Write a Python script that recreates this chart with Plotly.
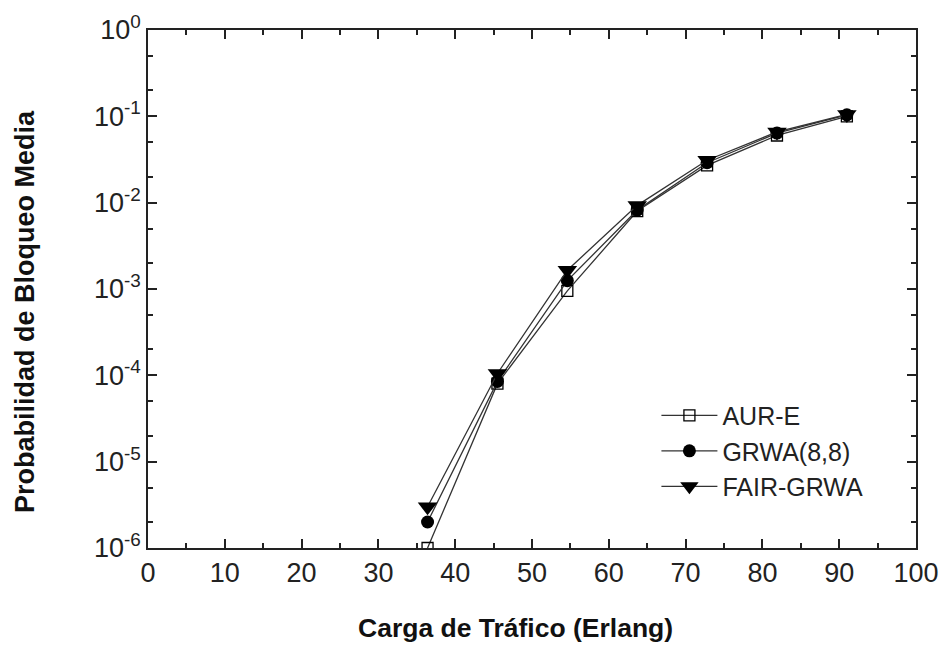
import plotly.graph_objects as go

carga = [36.4, 45.5, 54.6, 63.7, 72.8, 81.9, 91.0]
aur_e = [1.0e-6, 8.0e-5, 9.5e-4, 8.0e-3, 2.7e-2, 6.0e-2, 1.0e-1]
grwa = [2.0e-6, 8.5e-5, 1.25e-3, 8.2e-3, 2.9e-2, 6.4e-2, 1.04e-1]
fair_grwa = [3.0e-6, 1.05e-4, 1.65e-3, 9.3e-3, 3.1e-2, 6.6e-2, 1.05e-1]

y_tickvals = [1e-6, 1e-5, 1e-4, 1e-3, 1e-2, 1e-1, 1e0]
y_ticktext = ["10<sup>-6</sup>", "10<sup>-5</sup>", "10<sup>-4</sup>", "10<sup>-3</sup>",
              "10<sup>-2</sup>", "10<sup>-1</sup>", "10<sup>0</sup>"]
x_tickvals = list(range(0, 101, 10))
x_title = "Carga de Tráfico (Erlang)"
y_title = "Probabilidad de Bloqueo Media"

fig = go.Figure()
series = [
    ("AUR-E", aur_e, dict(symbol="square-open", size=11, color="black", line=dict(width=1.3, color="black"))),
    ("GRWA(8,8)", grwa, dict(symbol="circle", size=13, color="black")),
    ("FAIR-GRWA", fair_grwa, dict(symbol="triangle-down", size=17, color="black")),
]
for name, vals, mk in series:
    fig.add_trace(go.Scatter(x=carga, y=vals, name=name, mode="lines+markers",
                             line=dict(color="#333", width=1.3), marker=mk,
                             cliponaxis=True))

fig.update_layout(
    width=944, height=652,
    margin=dict(l=148, r=28, t=30, b=104),
    paper_bgcolor="white", plot_bgcolor="white",
    font=dict(family="Liberation Sans, Arial, sans-serif", color="#222"),
    showlegend=True,
    legend=dict(x=0.662, y=0.30, xanchor="left", yanchor="top",
                font=dict(size=25, color="#222"), bgcolor="rgba(0,0,0,0)",
                tracegroupgap=0, itemwidth=56),
    annotations=[
        dict(text="<b>" + x_title + "</b>", xref="paper", yref="paper",
             x=(515 - 148) / 768, y=-(628 - 548) / 518, xanchor="center", yanchor="middle",
             showarrow=False, font=dict(size=26.5, color="#111")),
        dict(text="<b>" + y_title + "</b>", xref="paper", yref="paper",
             x=-(148 - 25) / 768, y=(548 - 312) / 518, xanchor="center", yanchor="middle",
             textangle=-90, showarrow=False, font=dict(size=27, color="#111")),
    ],
)
fig.update_xaxes(
    range=[0, 100], tickvals=x_tickvals, ticks="inside", ticklen=9, tickwidth=1.5,
    tickcolor="#222", showline=True, linecolor="#222", linewidth=1.5, mirror="ticks",
    showgrid=False, zeroline=False, tickfont=dict(size=27), automargin=False,
    minor=dict(ticks="inside", ticklen=5, dtick=5, tickcolor="#222", showgrid=False),
)
fig.update_yaxes(
    type="log", range=[-6, 0], tickvals=y_tickvals, ticktext=y_ticktext,
    ticks="inside", ticklen=9, tickwidth=1.5, tickcolor="#222",
    showline=True, linecolor="#222", linewidth=1.5, mirror="ticks",
    showgrid=False, zeroline=False, tickfont=dict(size=27), automargin=False,
    minor=dict(ticks="inside", ticklen=5, tickcolor="#222", showgrid=False),
)

fig.write_html("out.html")
